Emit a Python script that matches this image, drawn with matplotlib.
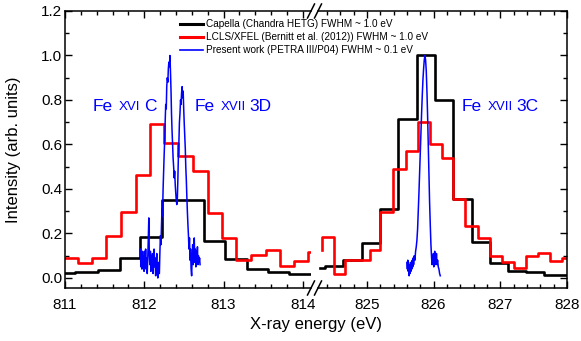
# Fe XVI / Fe XVII line comparison, broken energy axis

import matplotlib.pyplot as plt
from matplotlib.ticker import MultipleLocator
from matplotlib.lines import Line2D

plt.rcParams['font.family'] = ['Liberation Sans', 'DejaVu Sans']

# Capella (Chandra HETG): bin edges and heights
capella_left_edges = [811.0, 811.13, 811.42, 811.69, 811.95, 812.22, 812.49, 812.75,
                      813.02, 813.29, 813.56, 813.83, 814.09]
capella_left_vals = [0.021, 0.028, 0.036, 0.092, 0.186, 0.352, 0.352, 0.168,
                     0.084, 0.040, 0.025, 0.020]
capella_right_edges = [824.30, 824.37, 824.64, 824.92, 825.19, 825.47, 825.75, 826.02,
                       826.29, 826.57, 826.84, 827.11, 827.38, 827.66, 828.1]
capella_right_vals = [0.046, 0.056, 0.081, 0.157, 0.31, 0.715, 1.0, 0.80,
                      0.355, 0.16, 0.066, 0.030, 0.027, 0.014]

# LCLS/XFEL (Bernitt et al. 2012)
lcls_left_edges = [811.0, 811.16, 811.34, 811.52, 811.71, 811.89, 812.07, 812.25, 812.43,
                   812.62, 812.80, 812.98, 813.16, 813.34, 813.53, 813.71, 813.89, 814.07, 814.2]
lcls_left_vals = [0.089, 0.066, 0.089, 0.188, 0.295, 0.465, 0.69, 0.607, 0.55,
                  0.48, 0.29, 0.178, 0.083, 0.105, 0.126, 0.055, 0.075, 0.116]
lcls_right_edges = [824.32, 824.32, 824.51, 824.67, 824.85, 825.04, 825.20, 825.39, 825.58,
                    825.77, 825.94, 826.12, 826.29, 826.47, 826.67, 826.84, 827.02, 827.20,
                    827.38, 827.57, 827.74, 827.93, 828.1]
lcls_right_vals = [0.125, 0.186, 0.018, 0.082, 0.082, 0.128, 0.295, 0.49, 0.573,
                   0.70, 0.604, 0.54, 0.355, 0.235, 0.179, 0.098, 0.074, 0.044,
                   0.099, 0.114, 0.078, 0.092]

# Present work (PETRA III/P04)
petra_left_x = [811.950, 811.957, 811.963, 811.970, 811.977, 811.983, 811.990, 811.997,
                812.003, 812.010, 812.017, 812.023, 812.030, 812.037, 812.043, 812.050,
                812.057, 812.063, 812.070, 812.077, 812.083, 812.090, 812.097, 812.103,
                812.110, 812.117, 812.123, 812.130, 812.137, 812.143, 812.150, 812.157,
                812.163, 812.170, 812.177, 812.183, 812.190, 812.197, 812.203, 812.210,
                812.217, 812.223, 812.230, 812.237, 812.243, 812.250, 812.257, 812.263,
                812.270, 812.277, 812.283, 812.290, 812.297, 812.303, 812.310, 812.317,
                812.323, 812.330, 812.337, 812.343, 812.350, 812.357, 812.363, 812.370,
                812.377, 812.383, 812.390, 812.397, 812.403, 812.410, 812.417, 812.423,
                812.430, 812.437, 812.443, 812.450, 812.457, 812.463, 812.470, 812.477,
                812.483, 812.490, 812.497, 812.503, 812.510, 812.517, 812.523, 812.530,
                812.537, 812.543, 812.550, 812.557, 812.563, 812.570, 812.577, 812.583,
                812.590, 812.597, 812.603, 812.610, 812.617, 812.623, 812.630, 812.637,
                812.643, 812.650, 812.657, 812.663, 812.670, 812.677, 812.683, 812.690,
                812.697, 812.703]
petra_left_y = [0.13, 0.05, 0.11, 0.04, 0.12, 0.07, 0.10, 0.03,
                0.12, 0.06, 0.13, 0.04, 0.09, 0.02, 0.08, 0.17,
                0.27, 0.11, 0.06, 0.12, 0.03, 0.10, 0.05, 0.11,
                0.02, 0.08, 0.13, 0.05, 0.09, 0.01, 0.06, 0.11,
                0.04, 0.00, 0.07, 0.03, 0.02, 0.12, 0.19, 0.15,
                0.24, 0.31, 0.28, 0.40, 0.47, 0.55, 0.62, 0.70,
                0.78, 0.76, 0.86, 0.90, 0.88, 0.94, 0.97, 0.95,
                1.00, 0.93, 0.84, 0.74, 0.66, 0.60, 0.54, 0.50,
                0.45, 0.48, 0.42, 0.38, 0.35, 0.33, 0.36, 0.44,
                0.55, 0.62, 0.70, 0.74, 0.80, 0.78, 0.83, 0.86,
                0.81, 0.84, 0.76, 0.70, 0.64, 0.58, 0.50, 0.44,
                0.36, 0.30, 0.24, 0.19, 0.13, 0.18, 0.08, 0.13,
                0.04, 0.01, 0.09, 0.15, 0.06, 0.12, 0.18, 0.07,
                0.13, 0.05, 0.12, 0.08, 0.14, 0.06, 0.10, 0.07,
                0.09, 0.06]
petra_right_x = [825.600, 825.607, 825.613, 825.620, 825.627, 825.633, 825.640, 825.647,
                 825.653, 825.660, 825.667, 825.673, 825.680, 825.687, 825.693, 825.700,
                 825.710, 825.720, 825.730, 825.740, 825.750, 825.760, 825.770, 825.780,
                 825.790, 825.800, 825.810, 825.820, 825.830, 825.840, 825.850, 825.860,
                 825.870, 825.880, 825.890, 825.900, 825.910, 825.920, 825.930, 825.940,
                 825.950, 825.960, 825.970, 825.977, 825.983, 825.990, 825.997, 826.003,
                 826.010, 826.017, 826.023, 826.030, 826.037, 826.043, 826.050, 826.060,
                 826.070, 826.080, 826.090, 826.100]
petra_right_y = [0.07, 0.04, 0.08, 0.03, 0.06, 0.01, 0.05, 0.02,
                 0.07, 0.03, 0.06, 0.04, 0.08, 0.05, 0.09, 0.06,
                 0.10, 0.08, 0.12, 0.14, 0.17, 0.22, 0.30, 0.38,
                 0.47, 0.56, 0.65, 0.74, 0.82, 0.89, 0.94, 0.98,
                 1.00, 0.98, 0.93, 0.84, 0.73, 0.60, 0.47, 0.34,
                 0.24, 0.15, 0.09, 0.06, 0.10, 0.07, 0.11, 0.05,
                 0.09, 0.12, 0.06, 0.10, 0.07, 0.11, 0.06, 0.08,
                 0.05, 0.04, 0.02, 0.01]

legend_labels = ['Capella (Chandra HETG) FWHM ~ 1.0 eV',
                 'LCLS/XFEL (Bernitt et al. (2012)) FWHM ~ 1.0 eV',
                 'Present work (PETRA III/P04) FWHM ~ 0.1 eV']

W, H = 581, 341
fig = plt.figure(figsize=(W / 100, H / 100), dpi=100)
ax1 = fig.add_axes([65 / W, 53 / H, 246 / W, 277 / H])
ax2 = fig.add_axes([318 / W, 53 / H, 249 / W, 277 / H])


def steps(ax, edges, vals, color):
    ax.step(edges, list(vals) + [vals[-1]], where='post', color=color, lw=1.9)


steps(ax1, capella_left_edges, capella_left_vals, 'black')
steps(ax1, lcls_left_edges, lcls_left_vals, 'red')
ax1.plot(petra_left_x, petra_left_y, color='blue', lw=1.1)
steps(ax2, capella_right_edges, capella_right_vals, 'black')
steps(ax2, lcls_right_edges, lcls_right_vals, 'red')
ax2.plot(petra_right_x, petra_right_y, color='blue', lw=1.1)

ax1.set_xlim(811, 811 + 246 / 79.3)
ax2.set_xlim(828 - 249 / 66.7, 828)
for ax in (ax1, ax2):
    ax.set_ylim(-0.045, 1.2)
    ax.xaxis.set_major_locator(MultipleLocator(1))
    ax.xaxis.set_minor_locator(MultipleLocator(0.2))
    ax.yaxis.set_major_locator(MultipleLocator(0.2))
    ax.yaxis.set_minor_locator(MultipleLocator(0.1))
    ax.tick_params(which='both', direction='in', top=True, labelsize=11, width=1)
    ax.tick_params(which='major', length=5)
    ax.tick_params(which='minor', length=3)
    ax.tick_params(axis='x', pad=7)
    for s in ax.spines.values():
        s.set_linewidth(1.1)

ax1.spines['right'].set_visible(False)
ax1.tick_params(axis='y', which='both', right=False, pad=2)
ax1.yaxis.set_major_formatter(plt.FuncFormatter(lambda v, p: f'{v:.1f}'))
ax2.spines['left'].set_visible(False)
ax2.tick_params(axis='y', which='both', left=False, right=True, labelleft=False)

# break marks
for yc in (11, 288):
    for xc in (311, 318):
        fig.add_artist(Line2D([(xc - 3.5) / W, (xc + 3.5) / W],
                              [1 - (yc + 7) / H, 1 - (yc - 7) / H],
                              color='black', lw=1.1, transform=fig.transFigure))

fig.text(316 / W, 1 - 325 / H, 'X-ray energy (eV)', ha='center', va='center', fontsize=12)
fig.text(14 / W, 1 - 150 / H, 'Intensity (arb. units)', ha='center', va='center',
         rotation=90, fontsize=12)

handles = [Line2D([], [], color='black', lw=2.2),
           Line2D([], [], color='red', lw=2.2),
           Line2D([], [], color='blue', lw=1.2)]
fig.legend(handles, legend_labels, loc='upper left', bbox_to_anchor=(180 / W, 1 - 19 / H),
           frameon=False, fontsize=7.2, handlelength=2.3, handletextpad=0.3,
           labelspacing=0.32, borderpad=0, borderaxespad=0)


def ion_label(x, y, stage, line):
    t1 = fig.text(x / W, 1 - y / H, 'Fe', color='blue', fontsize=12.5)
    t2 = plt.annotate(stage, xy=(1, 0), xycoords=t1, xytext=(4, 0.6),
                      textcoords='offset points', color='blue', fontsize=9.5, va='bottom')
    plt.annotate(line, xy=(1, 0), xycoords=t2, xytext=(2.5, -0.6),
                 textcoords='offset points', color='blue', fontsize=12.5, va='bottom')


ion_label(93, 111, 'XVI', 'C')
ion_label(195, 111, 'XVII', '3D')
ion_label(462, 111, 'XVII', '3C')

fig.savefig('out.png', dpi=100)
